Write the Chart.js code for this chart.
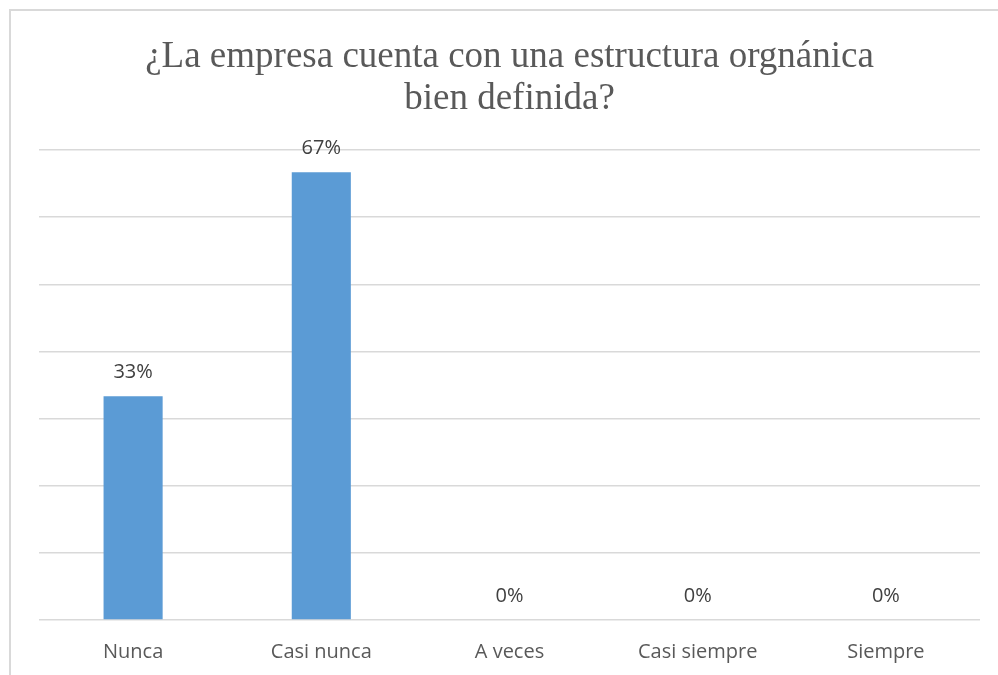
<!DOCTYPE html>
<html>
<head>
<meta charset="utf-8">
<script src="https://cdn.jsdelivr.net/npm/chart.js@4"></script>
<style>
html,body{margin:0;padding:0;background:#fff;}
#wrap{width:998px;height:675px;position:relative;}
</style>
</head>
<body>
<div id="wrap"><canvas id="c" width="998" height="675"></canvas></div>
<script>
const categories = ["Nunca", "Casi nunca", "A veces", "Casi siempre", "Siempre"];
const values = [33.33, 66.67, 0, 0, 0];
const valueLabels = ["33%", "67%", "0%", "0%", "0%"];
const titleLines = ["¿La empresa cuenta con una estructura orgnánica", "bien definida?"];

const framePlugin = {
  id: 'frame',
  beforeDraw(chart) {
    const ctx = chart.ctx;
    ctx.save();
    ctx.fillStyle = '#ffffff';
    ctx.fillRect(0, 0, chart.width, chart.height);
    ctx.strokeStyle = '#d9d9d9';
    ctx.lineWidth = 2;
    ctx.beginPath();
    ctx.moveTo(10, 675);
    ctx.lineTo(10, 10);
    ctx.lineTo(998, 10);
    ctx.stroke();
    ctx.restore();
  }
};

const labelPlugin = {
  id: 'valueLabels',
  afterDatasetsDraw(chart) {
    const ctx = chart.ctx;
    const meta = chart.getDatasetMeta(0);
    ctx.save();
    ctx.fillStyle = '#404040';
    ctx.font = '20px "Open Sans"';
    ctx.textAlign = 'center';
    ctx.textBaseline = 'middle';
    meta.data.forEach((bar, i) => {
      ctx.fillText(valueLabels[i], bar.x, bar.y - 24);
    });
    ctx.restore();
  }
};

new Chart(document.getElementById('c'), {
  type: 'bar',
  data: {
    labels: categories,
    datasets: [{
      data: values,
      backgroundColor: '#5b9bd5',
      borderWidth: 0,
      categoryPercentage: 1,
      barPercentage: 0.314
    }]
  },
  options: {
    responsive: false,
    animation: false,
    layout: { padding: { left: 39, right: 18, top: 0, bottom: 0 } },
    plugins: {
      legend: { display: false },
      tooltip: { enabled: false },
      title: {
        display: true,
        text: titleLines,
        color: '#595959',
        font: { family: '"Liberation Serif", "Times New Roman", serif', size: 37, weight: 'normal', lineHeight: 1.135 },
        padding: { top: 36, bottom: 30 }
      }
    },
    scales: {
      x: {
        grid: { display: false },
        border: { display: false },
        ticks: { color: '#595959', font: { family: '"Open Sans"', size: 20 }, padding: 12, maxRotation: 0 },
        afterFit(scale) { scale.height = 55; }
      },
      y: {
        min: 0, max: 70,
        ticks: { display: false, stepSize: 10 },
        grid: { color: '#d9d9d9', lineWidth: 1.5, drawTicks: false },
        border: { display: false }
      }
    }
  },
  plugins: [framePlugin, labelPlugin]
});
</script>
</body>
</html>
